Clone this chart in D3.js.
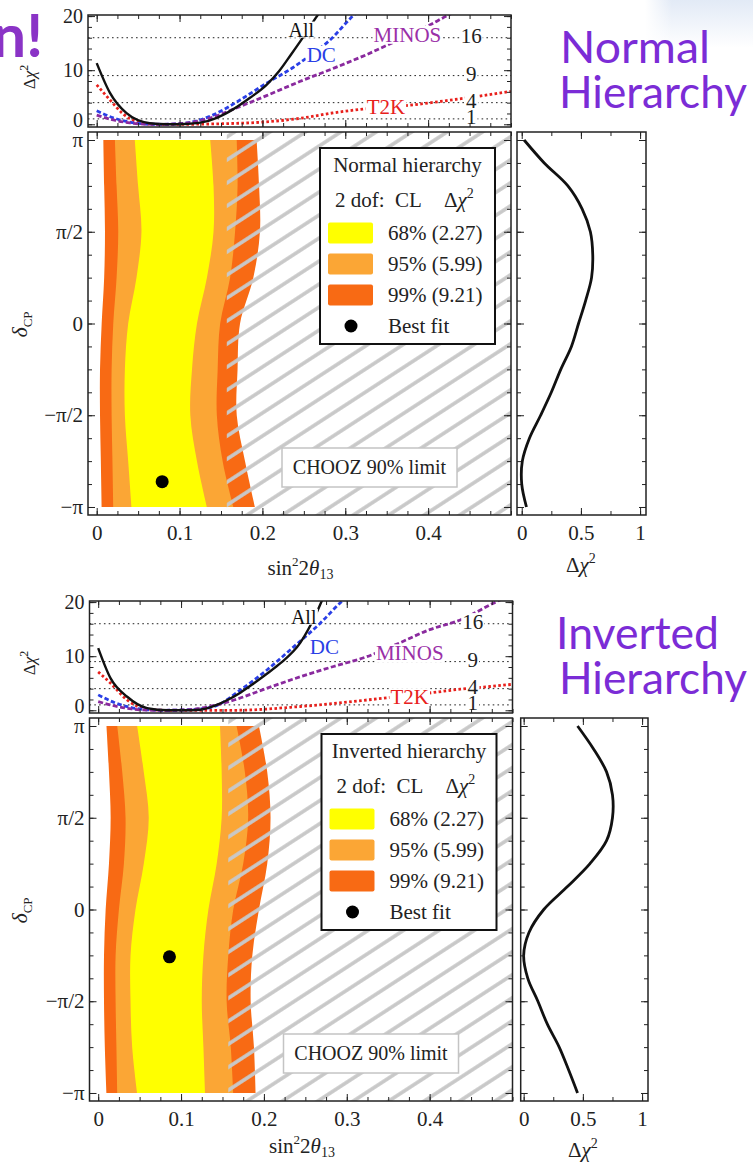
<!DOCTYPE html>
<html><head><meta charset="utf-8">
<script src="https://cdn.jsdelivr.net/npm/d3@7"></script>
<style>
body{margin:0;background:#fff}
svg{display:block}
text{font-family:"Liberation Serif","Times New Roman",serif;fill:#222}
</style>
</head><body>
<svg id="c" width="753" height="1163"></svg>
<script>
// ---------------- DATA ----------------
// delta_CP sample points (units of pi) for allowed-region boundaries
const deltaGrid = [-1, -0.75, -0.5, -0.25, 0, 0.25, 0.5, 0.75, 1];
// Normal hierarchy: sin^2 2theta13 boundaries (L = left edge, R = right edge)
const nh99L = [0.006, 0.005, 0.004, 0.004, 0.006, 0.009, 0.010, 0.009, 0.008];
const nh95L = [0.020, 0.019, 0.018, 0.018, 0.020, 0.024, 0.026, 0.024, 0.022];
const nh68L = [0.042, 0.038, 0.034, 0.034, 0.038, 0.048, 0.054, 0.050, 0.046];
const nh68R = [0.133, 0.121, 0.113, 0.115, 0.121, 0.133, 0.141, 0.141, 0.137];
const nh95R = [0.165, 0.152, 0.145, 0.146, 0.149, 0.161, 0.167, 0.170, 0.169];
const nh99R = [0.191, 0.179, 0.169, 0.170, 0.173, 0.189, 0.197, 0.196, 0.193];
// Inverted hierarchy
const ih99L = [0.010, 0.008, 0.007, 0.007, 0.009, 0.013, 0.015, 0.013, 0.010];
const ih95L = [0.023, 0.022, 0.021, 0.021, 0.025, 0.031, 0.033, 0.029, 0.023];
const ih68L = [0.047, 0.041, 0.039, 0.039, 0.045, 0.055, 0.061, 0.055, 0.047];
const ih68R = [0.129, 0.127, 0.125, 0.127, 0.133, 0.143, 0.149, 0.149, 0.147];
const ih95R = [0.163, 0.160, 0.155, 0.157, 0.163, 0.175, 0.181, 0.177, 0.167];
const ih99R = [0.190, 0.188, 0.184, 0.186, 0.194, 0.204, 0.208, 0.204, 0.194];

// best fit points [sin^2 2theta13, delta/pi]
const nhBest = [0.079, -0.862];
const ihBest = [0.086, -0.258];
// CHOOZ 90% limit
const choozLimit = 0.157;

// Delta chi^2 profile vs delta_CP
const profileDelta = [-1, -0.875, -0.75, -0.625, -0.5, -0.375, -0.25, -0.125, 0, 0.125, 0.25, 0.375, 0.5, 0.625, 0.75, 0.875, 1];
const nhProfile = [0.04, 0.0, 0.005, 0.065, 0.16, 0.25, 0.33, 0.42, 0.48, 0.54, 0.59, 0.60, 0.58, 0.51, 0.39, 0.19, 0.02];
const ihProfile = [0.455, 0.38, 0.30, 0.20, 0.12, 0.035, 0.0, 0.045, 0.17, 0.37, 0.56, 0.70, 0.75, 0.75, 0.70, 0.59, 0.455];

// Delta chi^2 vs sin^2 2theta13 (top panels)
const nhAllS = [0, 0.016, 0.036, 0.064, 0.085, 0.105, 0.125, 0.145, 0.165, 0.185, 0.205, 0.22, 0.235, 0.25, 0.265, 0.275];
const nhAllC = [11.3, 5.8, 2.05, 0.2, 0, 0.05, 0.3, 1.2, 2.8, 4.9, 7.3, 9.8, 13, 16.3, 19.8, 22];
const nhDcS = [0, 0.02, 0.04, 0.06, 0.08, 0.10, 0.12, 0.14, 0.173, 0.205, 0.237, 0.26, 0.281, 0.309, 0.32];
const nhDcC = [2.5, 1.2, 0.4, 0.05, 0, 0.1, 0.6, 1.7, 4.5, 7.6, 10.5, 13, 15.5, 20, 21.5];
const nhMinosS = [0, 0.02, 0.04, 0.06, 0.08, 0.10, 0.12, 0.14, 0.165, 0.205, 0.245, 0.285, 0.326, 0.36, 0.40, 0.422, 0.435];
const nhMinosC = [1.7, 0.8, 0.25, 0.02, 0, 0.1, 0.5, 1.3, 2.8, 5.3, 7.9, 10.3, 12.9, 15.3, 18.2, 20, 21];
const nhT2kS = [0, 0.016, 0.032, 0.05, 0.07, 0.10, 0.15, 0.20, 0.25, 0.285, 0.321, 0.376, 0.438, 0.466, 0.50];
const nhT2kC = [7.3, 4.5, 1.9, 0.4, 0, 0, 0.1, 0.4, 1.2, 2.1, 2.8, 3.5, 4.7, 5.3, 6.1];

const ihAllS = [0, 0.015, 0.035, 0.059, 0.083, 0.103, 0.123, 0.14, 0.156, 0.172, 0.188, 0.204, 0.22, 0.244, 0.262, 0.272];
const ihAllC = [11.5, 5.9, 2.5, 0.4, 0, 0.0, 0.1, 0.8, 1.9, 3.3, 5.0, 6.8, 8.7, 12.5, 17.5, 21];
const ihDcS = [0, 0.02, 0.04, 0.06, 0.08, 0.10, 0.12, 0.14, 0.172, 0.204, 0.232, 0.268, 0.296, 0.305];
const ihDcC = [2.85, 1.4, 0.5, 0.1, 0, 0.05, 0.2, 0.7, 3.8, 7.5, 11.2, 16.1, 20.4, 21.5];
const ihMinosS = [0, 0.02, 0.04, 0.06, 0.08, 0.10, 0.12, 0.14, 0.164, 0.204, 0.244, 0.284, 0.324, 0.36, 0.40, 0.437, 0.477, 0.50];
const ihMinosC = [1.6, 0.8, 0.25, 0.03, 0, 0.05, 0.3, 0.9, 1.9, 4.1, 6.2, 8.1, 9.9, 12.2, 14.9, 16.7, 19.8, 21.5];
const ihT2kS = [0, 0.015, 0.035, 0.059, 0.08, 0.12, 0.164, 0.244, 0.324, 0.405, 0.437, 0.473, 0.50];
const ihT2kC = [7.1, 5.0, 1.9, 0.2, 0, 0, 0, 0.7, 1.9, 3.3, 3.9, 4.4, 4.8];

// reference levels and ticks
const levelLines = [1, 4, 9, 16];
const chiTicks = [0, 10, 20];
const s22Ticks = [0, 0.1, 0.2, 0.3, 0.4];
const deltaTicks = [-1, -0.5, 0, 0.5, 1];
const deltaTickLabels = ["\u2212\u03c0", "\u2212\u03c0/2", "0", "\u03c0/2", "\u03c0"];
const profTicks = [0, 0.5, 1];
const clLabels = ["68% (2.27)", "95% (5.99)", "99% (9.21)"];
const seriesNames = ["T2K", "DC", "MINOS", "All"];

// ---------------- STYLE / LAYOUT ----------------
const C99 = "#f86a14", C95 = "#fba635", C68 = "#ffff00";
const seriesStyle = {
  "T2K": {color: "#e8201c", dash: "2.6,2.4", label: "#e8201c"},
  "DC": {color: "#2a3fe6", dash: "4.5,2.5", label: "#2a3fe6"},
  "MINOS": {color: "#8a2a9e", dash: "5,2.5", label: "#9a30a8"},
  "All": {color: "#111", dash: null, label: "#111"}
};
const PURPLE = "#7b2cd6";

const svg = d3.select("#c");
const defs = svg.append("defs");

// top-right light background
const grad = defs.append("linearGradient").attr("id", "bg").attr("x1", 0).attr("y1", 0).attr("x2", 0).attr("y2", 1);
grad.append("stop").attr("offset", "0%").attr("stop-color", "#e2eaf6");
grad.append("stop").attr("offset", "100%").attr("stop-color", "#ffffff");
const gradH = defs.append("linearGradient").attr("id", "bgm").attr("x1", 0).attr("y1", 0).attr("x2", 1).attr("y2", 0);
gradH.append("stop").attr("offset", "0%").attr("stop-color", "#fff").attr("stop-opacity", 1);
gradH.append("stop").attr("offset", "25%").attr("stop-color", "#fff").attr("stop-opacity", 0);
svg.append("rect").attr("x", 645).attr("y", 0).attr("width", 108).attr("height", 48).attr("fill", "url(#bg)");
svg.append("rect").attr("x", 645).attr("y", 0).attr("width", 108).attr("height", 48).attr("fill", "url(#bgm)");

// hatch pattern
const hatch = defs.append("pattern").attr("id", "hatch").attr("patternUnits", "userSpaceOnUse")
  .attr("width", 40).attr("height", 19.3).attr("patternTransform", "rotate(-33)");
hatch.append("rect").attr("x", 0).attr("y", 5).attr("width", 40).attr("height", 3.6).attr("fill", "#c8c8c8");

function inTicks(sel) {
  sel.select(".domain").remove();
  sel.selectAll(".tick line").attr("stroke", "#222").attr("stroke-width", 1);
  sel.selectAll(".tick text").attr("fill", "#222");
}

function labelWithBg(g, x, y, txt, color, size) {
  const t = g.append("text").attr("x", x).attr("y", y).attr("dy", "0.35em")
    .attr("text-anchor", "middle").attr("font-size", size).style("fill", color).text(txt);
  const bb = t.node().getBBox();
  g.insert("rect", () => t.node()).attr("x", bb.x - 1).attr("y", bb.y + 3)
    .attr("width", bb.width + 2).attr("height", bb.height - 6).attr("fill", "#fff");
}

function drawSet(cfg) {
  const g = svg.append("g").attr("transform", `translate(0,${cfg.oy})`);
  const X0 = 88 + cfg.dx, X1 = 511 + cfg.dx;
  const TT = 15, TB = 127, MT = 132, MB = 515;
  const x = d3.scaleLinear().domain([-0.0105, 0.5]).range([X0, X1]);
  const yT = d3.scaleLinear().domain([-0.5, 20.2]).range([TB, TT]);
  const yM = d3.scaleLinear().domain([-1.0436, 1.0436]).range([MB, MT]);
  const xP = d3.scaleLinear().domain(cfg.pDomain).range(cfg.pRange);
  const P0 = cfg.pRange[0], P1 = cfg.pRange[1];

  // clip paths
  const cidT = "clipT" + cfg.id, cidM = "clipM" + cfg.id;
  defs.append("clipPath").attr("id", cidT).append("rect").attr("x", X0).attr("y", TT).attr("width", X1 - X0).attr("height", TB - TT);
  defs.append("clipPath").attr("id", cidM).append("rect").attr("x", X0).attr("y", MT).attr("width", X1 - X0).attr("height", MB - MT);

  // ---------- top panel ----------
  const top = g.append("g");
  top.append("rect").attr("x", X0).attr("y", TT).attr("width", X1 - X0).attr("height", TB - TT).attr("fill", "#fff");
  const tc = top.append("g").attr("clip-path", `url(#${cidT})`);
  tc.selectAll("line.lvl").data(levelLines).join("line").attr("class", "lvl")
    .attr("x1", X0).attr("x2", X1).attr("y1", d => yT(d)).attr("y2", d => yT(d))
    .attr("stroke", "#222").attr("stroke-width", 1).attr("stroke-dasharray", "1.6,3.2");
  const line = d3.line().curve(d3.curveMonotoneX).x(d => x(d[0])).y(d => yT(d[1]));
  seriesNames.forEach(name => {
    const s = cfg.series[name];
    const pts = s.S.map((v, i) => [v, s.C[i]]);
    const st = seriesStyle[name];
    tc.append("path").attr("d", line(pts)).attr("fill", "none").attr("stroke", st.color)
      .attr("stroke-width", name === "All" ? 2.4 : 2.8)
      .attr("stroke-dasharray", st.dash);
  });
  // labels
  const tl = top.append("g");
  seriesNames.forEach(name => {
    const p = cfg.labelPos[name];
    labelWithBg(tl, x(p[0]), yT(p[1]), name, seriesStyle[name].label, name === "All" ? 20 : 21);
  });
  levelLines.forEach(l => {
    labelWithBg(tl, x(0.452), yT(l) - 2, String(l), "#222", 21);
  });
  top.append("rect").attr("x", X0).attr("y", TT).attr("width", X1 - X0).attr("height", TB - TT)
    .attr("fill", "none").attr("stroke", "#222").attr("stroke-width", 1.5);
  // top ticks
  const minorS = d3.range(0, 0.5001, 0.025);
  top.append("g").attr("transform", `translate(0,${TB})`).call(d3.axisBottom(x).tickValues(minorS).tickSize(-4).tickFormat("")).call(inTicks);
  top.append("g").attr("transform", `translate(0,${TB})`).call(d3.axisBottom(x).tickValues(s22Ticks).tickSize(-7).tickFormat("")).call(inTicks);
  top.append("g").attr("transform", `translate(0,${TT})`).call(d3.axisTop(x).tickValues(minorS).tickSize(-4).tickFormat("")).call(inTicks);
  top.append("g").attr("transform", `translate(0,${TT})`).call(d3.axisTop(x).tickValues(s22Ticks).tickSize(-7).tickFormat("")).call(inTicks);
  const minorC = d3.range(0, 20.01, 2);
  top.append("g").attr("transform", `translate(${X0},0)`).call(d3.axisLeft(yT).tickValues(minorC).tickSize(-4).tickFormat("")).call(inTicks);
  const ya = top.append("g").attr("transform", `translate(${X0},0)`).call(d3.axisLeft(yT).tickValues(chiTicks).tickSize(-7).tickPadding(5).tickFormat(d3.format("d")))
    .call(inTicks);
  ya.selectAll("text").attr("font-size", 20).style("font-family", "Liberation Serif").attr("dy", d => d === 0 ? "0.1em" : "0.32em");
  top.append("g").attr("transform", `translate(${X1},0)`).call(d3.axisRight(yT).tickValues(minorC).tickSize(-4).tickFormat("")).call(inTicks);
  top.append("g").attr("transform", `translate(${X1},0)`).call(d3.axisRight(yT).tickValues(chiTicks).tickSize(-7).tickFormat("")).call(inTicks);
  // y title
  const yt = top.append("text").attr("transform", `translate(35,${(TT + TB) / 2 + 6}) rotate(-90)`)
    .attr("text-anchor", "middle").attr("font-size", 17);
  yt.append("tspan").text("\u0394");
  yt.append("tspan").attr("font-style", "italic").text("\u03c7");
  yt.append("tspan").attr("font-size", 12).attr("dy", -7).text("2");

  // ---------- main panel ----------
  const main = g.append("g");
  const mc = main.append("g").attr("clip-path", `url(#${cidM})`);
  const rows = deltaGrid.map((d, i) => ({d, l99: cfg.b.l99[i], l95: cfg.b.l95[i], l68: cfg.b.l68[i], r68: cfg.b.r68[i], r95: cfg.b.r95[i], r99: cfg.b.r99[i]}));
  const area = (lk, rk) => d3.area().curve(d3.curveCatmullRom).y(r => yM(r.d)).x0(r => x(r[lk])).x1(r => x(r[rk]));
  mc.append("path").attr("d", area("l99", "r99")(rows)).attr("fill", C99);
  mc.append("path").attr("d", area("l95", "r95")(rows)).attr("fill", C95);
  mc.append("path").attr("d", area("l68", "r68")(rows)).attr("fill", C68);
  // CHOOZ hatched region
  mc.append("rect").attr("x", x(choozLimit)).attr("y", MT).attr("width", X1 - x(choozLimit)).attr("height", MB - MT)
    .attr("fill", "url(#hatch)");
  // best fit
  mc.append("circle").attr("cx", x(cfg.best[0])).attr("cy", yM(cfg.best[1])).attr("r", 6.5).attr("fill", "#000");

  // legend
  const lg = main.append("g");
  lg.append("rect").attr("x", 320 + cfg.dx).attr("y", 148).attr("width", 175).attr("height", 196)
    .attr("fill", "#fff").attr("stroke", "#111").attr("stroke-width", 2);
  lg.append("text").attr("x", 407.5 + cfg.dx).attr("y", 172).attr("text-anchor", "middle").attr("font-size", 21).text(cfg.legendTitle);
  const l2 = lg.append("text").attr("y", 207).attr("font-size", 21);
  l2.append("tspan").attr("x", 335 + cfg.dx).text("2 dof:");
  l2.append("tspan").attr("x", 395 + cfg.dx).text("CL");
  l2.append("tspan").attr("x", 444 + cfg.dx).text("\u0394");
  l2.append("tspan").attr("font-style", "italic").text("\u03c7");
  l2.append("tspan").attr("font-size", 14).attr("dy", -9).text("2");
  const swC = [C68, C95, C99];
  clLabels.forEach((t, i) => {
    const cy = 233 + i * 31;
    lg.append("rect").attr("x", 328 + cfg.dx).attr("y", cy - 10.5).attr("width", 45).attr("height", 21).attr("rx", 2).attr("fill", swC[i]);
    lg.append("text").attr("x", 388 + cfg.dx).attr("y", cy + 7).attr("font-size", 21).text(t);
  });
  lg.append("circle").attr("cx", 351 + cfg.dx).attr("cy", 326).attr("r", 6.5).attr("fill", "#000");
  lg.append("text").attr("x", 388 + cfg.dx).attr("y", 333).attr("font-size", 21).text("Best fit");

  // CHOOZ label
  const cg = main.append("g");
  cg.append("rect").attr("x", 282 + cfg.dx).attr("y", 448).attr("width", 175).attr("height", 39)
    .attr("fill", "#fff").attr("stroke", "#c4c4c4").attr("stroke-width", 1.5);
  cg.append("text").attr("x", 369.5 + cfg.dx).attr("y", 474).attr("text-anchor", "middle").attr("font-size", 20).text("CHOOZ 90% limit");

  main.append("rect").attr("x", X0).attr("y", MT).attr("width", X1 - X0).attr("height", MB - MT)
    .attr("fill", "none").attr("stroke", "#222").attr("stroke-width", 1.5);
  // main ticks
  main.append("g").attr("transform", `translate(0,${MB})`).call(d3.axisBottom(x).tickValues(minorS).tickSize(-4).tickFormat("")).call(inTicks);
  main.append("g").attr("transform", `translate(0,${MB})`).call(d3.axisBottom(x).tickValues(s22Ticks).tickSize(-7).tickPadding(10).tickFormat(d => d === 0 ? "0" : d3.format(".1f")(d)))
    .call(inTicks).selectAll("text").attr("font-size", 21).style("font-family", "Liberation Serif");
  main.append("g").attr("transform", `translate(0,${MT})`).call(d3.axisTop(x).tickValues(minorS).tickSize(-4).tickFormat("")).call(inTicks);
  main.append("g").attr("transform", `translate(0,${MT})`).call(d3.axisTop(x).tickValues(s22Ticks).tickSize(-7).tickFormat("")).call(inTicks);
  const minorD = d3.range(-1, 1.001, 0.125);
  main.append("g").attr("transform", `translate(${X0},0)`).call(d3.axisLeft(yM).tickValues(minorD).tickSize(-4).tickFormat("")).call(inTicks);
  main.append("g").attr("transform", `translate(${X0},0)`).call(d3.axisLeft(yM).tickValues(deltaTicks).tickSize(-7).tickPadding(5).tickFormat((d, i) => deltaTickLabels[i]))
    .call(inTicks).selectAll("text").attr("font-size", 21).style("font-family", "Liberation Serif");
  main.append("g").attr("transform", `translate(${X1},0)`).call(d3.axisRight(yM).tickValues(minorD).tickSize(-4).tickFormat("")).call(inTicks);
  main.append("g").attr("transform", `translate(${X1},0)`).call(d3.axisRight(yM).tickValues(deltaTicks).tickSize(-7).tickFormat("")).call(inTicks);
  // titles
  const xt = main.append("text").attr("x", (X0 + X1) / 2 + 1).attr("y", cfg.titleY).attr("text-anchor", "middle").attr("font-size", 21);
  xt.append("tspan").text("sin");
  xt.append("tspan").attr("font-size", 13).attr("dy", -9).text("2");
  xt.append("tspan").attr("dy", 9).text("2");
  xt.append("tspan").attr("font-style", "italic").text("\u03b8");
  xt.append("tspan").attr("font-size", 14).attr("dy", 4).text("13");
  const dt = main.append("text").attr("transform", `translate(27,${(MT + MB) / 2 + 1}) rotate(-90)`).attr("text-anchor", "middle").attr("font-size", 22);
  dt.append("tspan").attr("font-style", "italic").text("\u03b4");
  dt.append("tspan").attr("font-size", 13).attr("dy", 5).text("CP");

  // ---------- right profile panel ----------
  const pr = g.append("g");
  pr.append("rect").attr("x", P0).attr("y", MT).attr("width", P1 - P0).attr("height", MB - MT).attr("fill", "#fff");
  const prof = cfg.profile.map((v, i) => [v, profileDelta[i]]);
  pr.append("path").attr("d", d3.line().curve(d3.curveCatmullRom).x(d => xP(d[0])).y(d => yM(d[1]))(prof))
    .attr("fill", "none").attr("stroke", "#111").attr("stroke-width", 2.8);
  pr.append("rect").attr("x", P0).attr("y", MT).attr("width", P1 - P0).attr("height", MB - MT)
    .attr("fill", "none").attr("stroke", "#222").attr("stroke-width", 1.5);
  const minorP = [0, 0.25, 0.5, 0.75, 1];
  pr.append("g").attr("transform", `translate(0,${MB})`).call(d3.axisBottom(xP).tickValues(minorP).tickSize(-4).tickFormat("")).call(inTicks);
  pr.append("g").attr("transform", `translate(0,${MB})`).call(d3.axisBottom(xP).tickValues(profTicks).tickSize(-7).tickPadding(10).tickFormat(d3.format("")))
    .call(inTicks).selectAll("text").attr("font-size", 21).style("font-family", "Liberation Serif");
  pr.append("g").attr("transform", `translate(0,${MT})`).call(d3.axisTop(xP).tickValues(minorP).tickSize(-4).tickFormat("")).call(inTicks);
  pr.append("g").attr("transform", `translate(0,${MT})`).call(d3.axisTop(xP).tickValues(profTicks).tickSize(-7).tickFormat("")).call(inTicks);
  pr.append("g").attr("transform", `translate(${P0},0)`).call(d3.axisLeft(yM).tickValues(minorD).tickSize(-4).tickFormat("")).call(inTicks);
  pr.append("g").attr("transform", `translate(${P0},0)`).call(d3.axisLeft(yM).tickValues(deltaTicks).tickSize(-7).tickFormat("")).call(inTicks);
  pr.append("g").attr("transform", `translate(${P1},0)`).call(d3.axisRight(yM).tickValues(minorD).tickSize(-4).tickFormat("")).call(inTicks);
  pr.append("g").attr("transform", `translate(${P1},0)`).call(d3.axisRight(yM).tickValues(deltaTicks).tickSize(-7).tickFormat("")).call(inTicks);
  const pt = pr.append("text").attr("x", xP(0.5)).attr("y", cfg.ptitleY).attr("text-anchor", "middle").attr("font-size", 21);
  pt.append("tspan").text("\u0394");
  pt.append("tspan").attr("font-style", "italic").text("\u03c7");
  pt.append("tspan").attr("font-size", 14).attr("dy", -9).text("2");

  // ---------- big purple titles ----------
  const tg = g.append("g");
  tg.append("text").attr("x", cfg.titleX).attr("y", 63).attr("font-size", 44).style("font-family", "Lato").style("fill", PURPLE)
    .attr("textLength", cfg.title1Len).attr("lengthAdjust", "spacingAndGlyphs").text(cfg.title1);
  tg.append("text").attr("x", 559).attr("y", 108).attr("font-size", 44).style("font-family", "Lato").style("fill", PURPLE)
    .attr("textLength", 188).attr("lengthAdjust", "spacingAndGlyphs").text("Hierarchy");
}

// cut-off slide title fragment
svg.append("text").attr("x", 43).attr("y", 57).attr("text-anchor", "end").attr("font-size", 60)
  .attr("font-weight", "bold").style("font-family", "Lato").style("fill", "#8a33c6").text("n!");

drawSet({
  id: 1, oy: 0, dx: 0, pDomain: [-0.04, 1.05], pRange: [517, 646],
  b: {l99: nh99L, l95: nh95L, l68: nh68L, r68: nh68R, r95: nh95R, r99: nh99R},
  best: nhBest, profile: nhProfile, legendTitle: "Normal hierarchy",
  title1: "Normal", titleX: 560, title1Len: 150, titleY: 575, ptitleY: 572,
  series: {"All": {S: nhAllS, C: nhAllC}, "DC": {S: nhDcS, C: nhDcC}, "MINOS": {S: nhMinosS, C: nhMinosC}, "T2K": {S: nhT2kS, C: nhT2kC}},
  labelPos: {"All": [0.247, 17.5], "DC": [0.271, 12.9], "MINOS": [0.375, 16.6], "T2K": [0.349, 3.2]}
});
drawSet({
  id: 2, oy: 586, dx: 1.5, pDomain: [-0.025, 1.05], pRange: [520.7, 648],
  b: {l99: ih99L, l95: ih95L, l68: ih68L, r68: ih68R, r95: ih95R, r99: ih99R},
  best: ihBest, profile: ihProfile, legendTitle: "Inverted hierarchy",
  title1: "Inverted", titleX: 556, title1Len: 163, titleY: 567, ptitleY: 571,
  series: {"All": {S: ihAllS, C: ihAllC}, "DC": {S: ihDcS, C: ihDcC}, "MINOS": {S: ihMinosS, C: ihMinosC}, "T2K": {S: ihT2kS, C: ihT2kC}},
  labelPos: {"All": [0.248, 17.3], "DC": [0.273, 11.7], "MINOS": [0.376, 10.6], "T2K": [0.376, 2.5]}
});
</script>
</body></html>
